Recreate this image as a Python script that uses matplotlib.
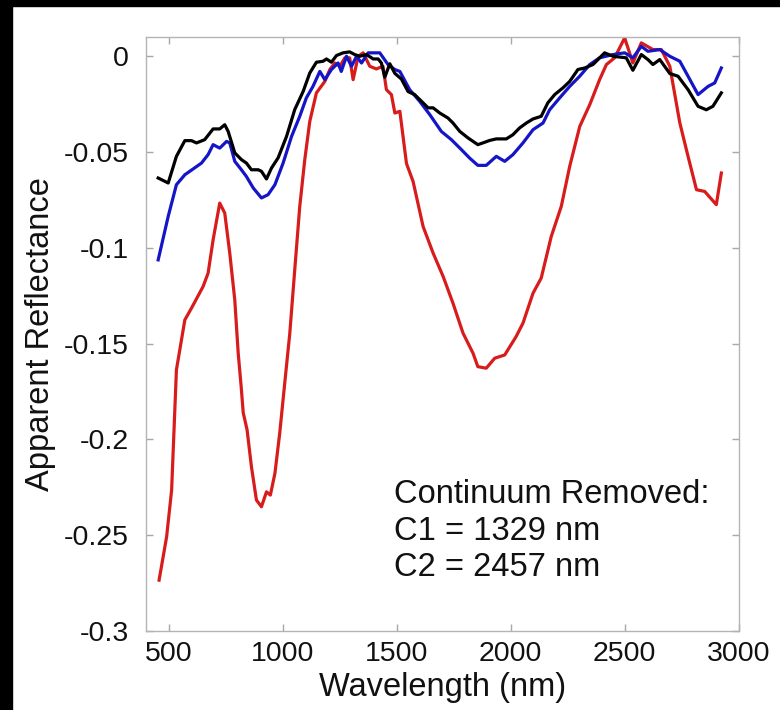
import matplotlib
matplotlib.use('Agg')
import matplotlib.pyplot as plt
from matplotlib.patches import Rectangle

plt.rcParams['font.family'] = ['Liberation Sans', 'DejaVu Sans']
plt.rcParams['axes.unicode_minus'] = False

# spectra (wavelength in nm, apparent reflectance)
wl_red = [458, 491, 513, 534, 571, 600, 651, 673, 695, 724, 746, 768, 790, 805,
          818, 827, 844, 863, 885, 907, 929, 946, 966, 987, 1009, 1031, 1053,
          1075, 1097, 1119, 1148, 1185, 1207, 1229, 1251, 1273, 1294, 1309,
          1331, 1353, 1382, 1411, 1440, 1455, 1477, 1492, 1514, 1543, 1572,
          1616, 1660, 1704, 1747, 1791, 1835, 1856, 1893, 1930, 1974, 2024,
          2054, 2098, 2134, 2178, 2222, 2259, 2303, 2347, 2390, 2420, 2456,
          2500, 2536, 2573, 2624, 2661, 2698, 2742, 2778, 2815, 2851, 2902,
          2924]
refl_red = [-0.2734, -0.2508, -0.2264, -0.1637, -0.1376, -0.1315, -0.1202,
            -0.1132, -0.0958, -0.0767, -0.0819, -0.1028, -0.1272, -0.155,
            -0.1724, -0.186, -0.195, -0.2142, -0.2316, -0.2351, -0.2273,
            -0.229, -0.2177, -0.1968, -0.1707, -0.145, -0.1115, -0.0784,
            -0.054, -0.034, -0.0192, -0.0132, -0.007, -0.0036, -0.0053,
            -0.0009, -0.0009, -0.0123, -0.0001, 0.0017, -0.0053, -0.0067,
            -0.0053, -0.0175, -0.0201, -0.0297, -0.0288, -0.056, -0.0654,
            -0.0889, -0.1028, -0.115, -0.1289, -0.1445, -0.155, -0.162,
            -0.1628, -0.1576, -0.1559, -0.1463, -0.1393, -0.1237, -0.1158,
            -0.0941, -0.0784, -0.0575, -0.0367, -0.0253, -0.0123, -0.0044,
            -0.0009, 0.0095, -0.0036, 0.0069, 0.0034, 0.0034, -0.0053,
            -0.0349, -0.0523, -0.0697, -0.0706, -0.0775, -0.061]

wl_blue = [454, 498, 534, 571, 607, 644, 673, 695, 724, 754, 768, 790, 819,
           841, 871, 907, 936, 966, 1002, 1039, 1075, 1104, 1133, 1163, 1185,
           1214, 1243, 1257, 1280, 1302, 1324, 1346, 1375, 1426, 1462, 1492,
           1514, 1557, 1601, 1645, 1696, 1740, 1784, 1820, 1856, 1893, 1937,
           1974, 2010, 2054, 2098, 2142, 2171, 2215, 2259, 2303, 2347, 2390,
           2449, 2500, 2536, 2573, 2602, 2654, 2698, 2742, 2778, 2822, 2866,
           2895, 2924]
refl_blue = [-0.1063, -0.0836, -0.0671, -0.0619, -0.0589, -0.0558, -0.0514,
             -0.0462, -0.048, -0.0445, -0.0453, -0.0549, -0.0593, -0.0628,
             -0.0688, -0.074, -0.0723, -0.0671, -0.0558, -0.0419, -0.0314,
             -0.0218, -0.0158, -0.008, -0.0123, -0.007, -0.0036, -0.008,
             -0.0001, -0.0053, -0.0001, -0.0036, 0.0017, 0.0017, -0.0044,
             -0.007, -0.008, -0.0175, -0.0236, -0.0305, -0.0393, -0.0436,
             -0.0488, -0.0532, -0.057, -0.057, -0.0523, -0.0549, -0.0514,
             -0.0453, -0.0384, -0.0349, -0.028, -0.0218, -0.0158, -0.0105,
             -0.0044, -0.0009, 0.0008, 0.0017, -0.0009, 0.0051, 0.0025,
             0.0034, -0.0001, -0.0027, -0.0105, -0.0201, -0.0158, -0.014,
             -0.0062]

wl_black = [454, 498, 534, 571, 600, 622, 658, 695, 724, 746, 761, 790, 819,
            841, 863, 893, 907, 929, 951, 980, 1017, 1053, 1090, 1119, 1148,
            1177, 1192, 1214, 1236, 1265, 1294, 1316, 1338, 1368, 1397, 1419,
            1433, 1448, 1470, 1492, 1521, 1550, 1579, 1609, 1638, 1660, 1689,
            1725, 1747, 1777, 1813, 1856, 1878, 1908, 1937, 1981, 2010, 2039,
            2069, 2098, 2134, 2163, 2193, 2229, 2259, 2295, 2325, 2361, 2383,
            2412, 2449, 2507, 2536, 2573, 2602, 2624, 2654, 2698, 2734, 2778,
            2822, 2858, 2887, 2924]
refl_black = [-0.0636, -0.0662, -0.0523, -0.0441, -0.0441, -0.0453, -0.0436,
              -0.038, -0.038, -0.0358, -0.0393, -0.0505, -0.054, -0.0558,
              -0.0593, -0.0593, -0.0601, -0.0641, -0.0584, -0.0531, -0.0419,
              -0.0279, -0.0184, -0.0088, -0.0032, -0.0027, -0.0015, -0.0032,
              0.0003, 0.0017, 0.0022, 0.0008, -0.0001, 0.0008, -0.0015,
              -0.0015, -0.0036, -0.011, -0.004, -0.009, -0.012, -0.0185,
              -0.0201, -0.0236, -0.027, -0.027, -0.0297, -0.0323, -0.0349,
              -0.0393, -0.0427, -0.0462, -0.0453, -0.044, -0.0432, -0.0432,
              -0.041, -0.0375, -0.0349, -0.0328, -0.0314, -0.0244, -0.0201,
              -0.0166, -0.0132, -0.007, -0.0062, -0.0044, -0.0018, 0.0017,
              -0.0001, -0.0009, -0.0074, 0.0008, -0.0018, -0.0044, -0.0018,
              -0.0091, -0.0105, -0.0175, -0.0262, -0.028, -0.0262, -0.0192]

xticks = [500, 1000, 1500, 2000, 2500, 3000]
yticks = [0, -0.05, -0.1, -0.15, -0.2, -0.25, -0.3]
ytick_labels = ['0', '-0.05', '-0.1', '-0.15', '-0.2', '-0.25', '-0.3']
note = 'Continuum Removed:\nC1 = 1329 nm\nC2 = 2457 nm'

fig = plt.figure(figsize=(7.8, 7.1), dpi=100)
ax = fig.add_axes([0.187, 0.111, 0.760, 0.837])

ax.plot(wl_red, refl_red, color='#d81c1c', lw=2.3)
ax.plot(wl_blue, refl_blue, color='#1515c8', lw=2.3)
ax.plot(wl_black, refl_black, color='black', lw=2.3)

ax.set_xlim(400, 3000)
ax.set_ylim(-0.3, 0.01)
ax.set_xticks(xticks)
ax.set_xticklabels([str(t) for t in xticks])
ax.set_yticks(yticks)
ax.set_yticklabels(ytick_labels)

for s in ax.spines.values():
    s.set_color('#b4b4b4')
    s.set_linewidth(1.0)
ax.tick_params(direction='in', top=True, right=True, length=5, width=1,
               color='#a8a8a8', labelsize=20.5, labelcolor='#111111')
ax.tick_params(axis='y', pad=12)
ax.tick_params(axis='x', pad=7)

ax.set_xlabel('Wavelength (nm)', fontsize=23.5, color='#111111', labelpad=4)
ax.set_ylabel('Apparent Reflectance', fontsize=23.5, color='#111111', labelpad=6)

ax.text(1487, -0.2205, note, fontsize=23.5, color='#111111',
        va='top', ha='left', linespacing=1.24)

# black frame strips on the top and left edges of the picture
fig.add_artist(Rectangle((0, 1 - 6 / 710), 1, 6 / 710, transform=fig.transFigure,
                         color='black', zorder=10))
fig.add_artist(Rectangle((0, 0), 12 / 780, 1, transform=fig.transFigure,
                         color='black', zorder=10))

fig.savefig('out.png', dpi=100)
